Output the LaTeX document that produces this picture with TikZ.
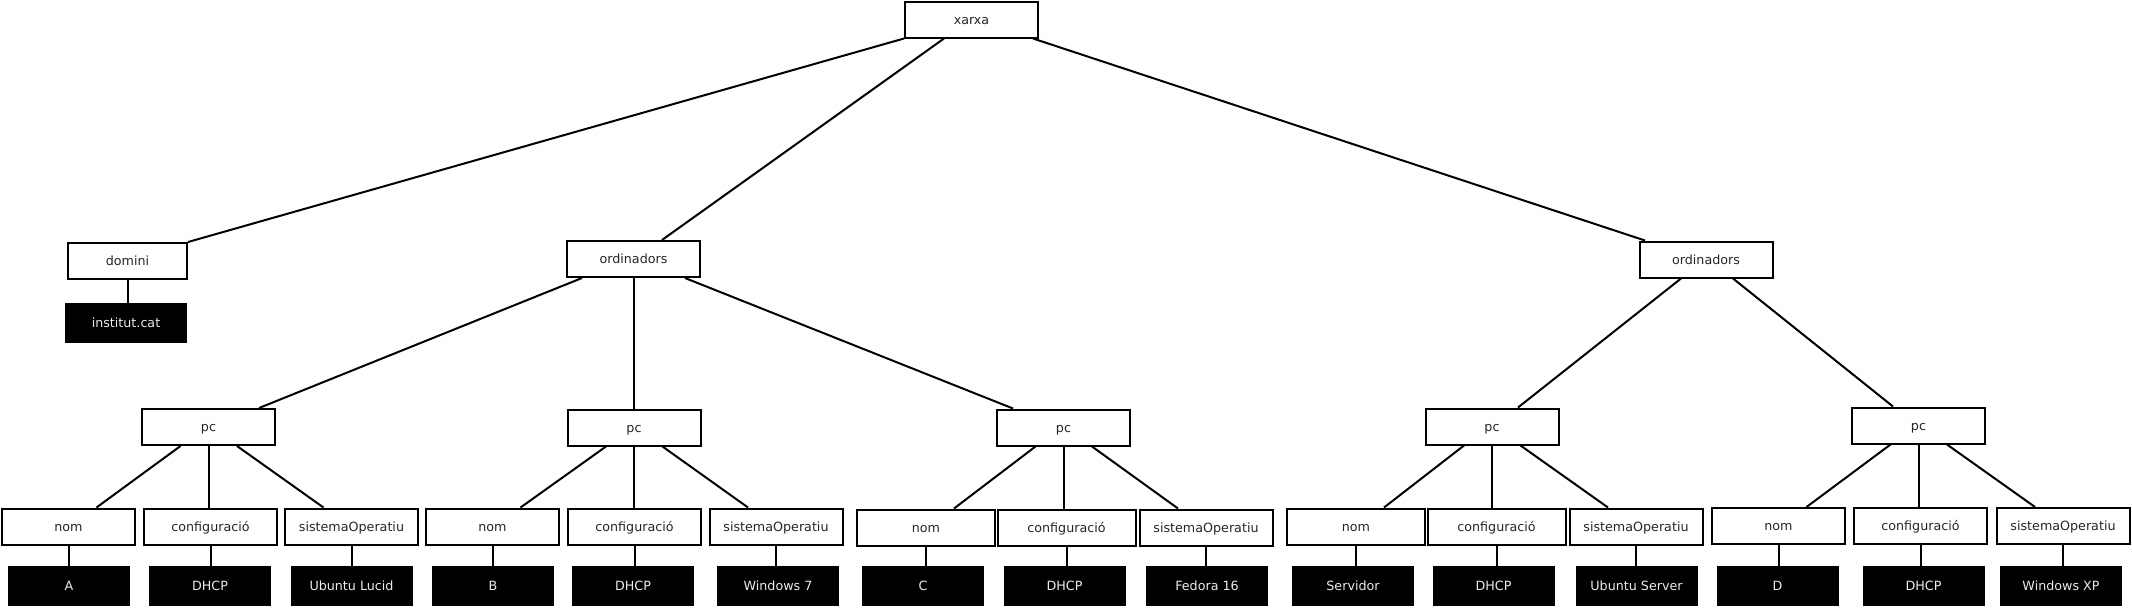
\documentclass[tikz,border=0pt]{standalone}
\usepackage{fontspec}
\setmainfont{DejaVu Sans}
\usetikzlibrary{calc}
\begin{document}
\begin{tikzpicture}[x=0.5pt,y=-0.5pt,
  wbox/.style={draw=black, line width=1pt, fill=white, minimum width=66.5pt, minimum height=18pt, inner sep=0pt, text height=5.8pt, text depth=1.1pt, text=black!85, font=\fontsize{6.35}{7.6}\selectfont},
  widebox/.style={wbox, minimum width=69pt},
  bbox/.style={fill=black, minimum width=61pt, minimum height=20pt, inner sep=0pt, text height=5.8pt, text depth=1.1pt, text=white!92!black, font=\fontsize{6.35}{7.6}\selectfont},
  conn/.style={line width=1pt}]
\useasboundingbox (0,0) rectangle (2132,607);
% top levels
\node[wbox] (xarxa) at (971.5,19.5) {xarxa};
\node[wbox, minimum width=59.5pt] (domini) at (127.5,261) {domini};
\node[bbox] (inst) at (126,323) {institut.cat};
\node[wbox] (ord1) at (633.5,259) {ordinadors};
\node[wbox] (ord2) at (1706,259.5) {ordinadors};
% pcs
\node[wbox] (pc1) at (208.5,427) {pc};
\node[wbox] (pc2) at (634,427.5) {pc};
\node[wbox] (pc3) at (1063.5,427.5) {pc};
\node[wbox] (pc4) at (1492,426.5) {pc};
\node[wbox] (pc5) at (1918.5,425.5) {pc};
% group 1
\node[wbox] (nom1) at (68.5,526.5) {nom};
\node[wbox] (conf1) at (210.5,526.5) {configuració};
\node[wbox] (sis1) at (351.5,526.5) {sistemaOperatiu};
\node[bbox] (v1a) at (69,586) {A};
\node[bbox] (v1b) at (210,586) {DHCP};
\node[bbox] (v1c) at (351.5,586) {Ubuntu Lucid};
% group 2
\node[wbox] (nom2) at (492.5,526.5) {nom};
\node[wbox] (conf2) at (634.5,526.5) {configuració};
\node[wbox] (sis2) at (776,526.5) {sistemaOperatiu};
\node[bbox] (v2a) at (493,586) {B};
\node[bbox] (v2b) at (633,586) {DHCP};
\node[bbox] (v2c) at (778,586) {Windows 7};
% group 3
\node[widebox] (nom3) at (926,527.5) {nom};
\node[widebox] (conf3) at (1066.5,527.5) {configuració};
\node[wbox] (sis3) at (1206,527.5) {sistemaOperatiu};
\node[bbox] (v3a) at (923,586) {C};
\node[bbox] (v3b) at (1064.5,586) {DHCP};
\node[bbox] (v3c) at (1207,586) {Fedora 16};
% group 4
\node[widebox] (nom4) at (1356,526.5) {nom};
\node[widebox] (conf4) at (1496.5,526.5) {configuració};
\node[wbox] (sis4) at (1636,526.5) {sistemaOperatiu};
\node[bbox] (v4a) at (1353,586) {Servidor};
\node[bbox] (v4b) at (1493.5,586) {DHCP};
\node[bbox] (v4c) at (1636.5,586) {Ubuntu Server};
% group 5
\node[wbox] (nom5) at (1778.5,526) {nom};
\node[wbox] (conf5) at (1920.5,526) {configuració};
\node[wbox] (sis5) at (2063,526) {sistemaOperatiu};
\node[bbox] (v5a) at (1777.5,586) {D};
\node[bbox] (v5b) at (1923.5,586) {DHCP};
\node[bbox] (v5c) at (2061,586) {Windows XP};
% connectors top
\draw[conn] (xarxa.south west) -- (domini.north east);
\draw[conn] ($(xarxa.south)+(-27.5,0)$) -- ($(ord1.north)+(28.5,0)$);
\draw[conn] ($(xarxa.south)+(61.5,0)$) -- ($(ord2.north)+(-61,0)$);
\draw[conn] (domini.south) -- (domini.south |- inst.north);
\draw[conn] ($(ord1.south)+(-51.5,0)$) -- ($(pc1.north)+(50.5,0)$);
\draw[conn] (ord1.south) -- (ord1.south |- pc2.north);
\draw[conn] ($(ord1.south)+(51.5,0)$) -- ($(pc3.north)+(-50.5,0)$);
\draw[conn] ($(ord2.south)+(-25,0)$) -- ($(pc4.north)+(26,0)$);
\draw[conn] ($(ord2.south)+(27,0)$) -- ($(pc5.north)+(-25.5,0)$);
% pc to children and leaves
\foreach \i in {1,...,5} {
  \draw[conn] ($(pc\i.south)+(-28,0)$) -- ($(nom\i.north)+(28,0)$);
  \draw[conn] (pc\i.south) -- (pc\i.south |- conf\i.north);
  \draw[conn] ($(pc\i.south)+(28.5,0)$) -- ($(sis\i.north)+(-28,0)$);
  \draw[conn] (nom\i.south) -- (nom\i.south |- v\i a.north);
  \draw[conn] (conf\i.south) -- (conf\i.south |- v\i b.north);
  \draw[conn] (sis\i.south) -- (sis\i.south |- v\i c.north);
}
\end{tikzpicture}
\end{document}
